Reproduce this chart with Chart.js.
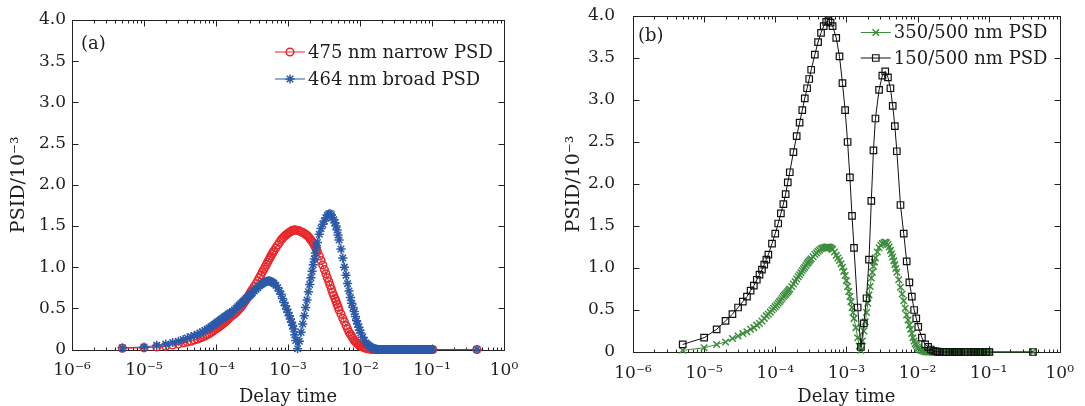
<!DOCTYPE html>
<html><head><meta charset="utf-8">
<script src="https://cdn.jsdelivr.net/npm/chart.js@4.4.1/dist/chart.umd.min.js"></script>
<style>
html,body{margin:0;padding:0;background:#fff;}
#wrap{position:relative;width:1085px;height:406px;overflow:hidden;background:#fff;}
.panel{position:absolute;top:0;height:406px;}
#pa{left:0;width:540px;}
#pb{left:540px;width:545px;}
</style></head><body>
<div id="wrap">
<div class="panel" id="pa"><canvas id="ca" width="540" height="406"></canvas></div>
<div class="panel" id="pb"><canvas id="cb" width="545" height="406"></canvas></div>
</div>
<script>
// ---- data ----
// fine lag grid (red, blue, green series)
const delayTimesFine = [
  5e-6, 1e-5, 1.5e-5, 2e-5, 2.5e-5, 3e-5, 3.5e-5, 4e-5, 4.5e-5, 5e-5, 5.5e-5, 6e-5, 6.5e-5, 7e-5, 7.5e-5, 8e-5,
  8.5e-5, 9e-5, 9.5e-5, 1e-4, 1.05e-4, 1.1e-4, 1.15e-4, 1.2e-4, 1.25e-4, 1.3e-4, 1.35e-4, 1.4e-4, 1.45e-4, 1.5e-4, 1.55e-4, 1.6e-4,
  1.7e-4, 1.8e-4, 1.9e-4, 2e-4, 2.1e-4, 2.2e-4, 2.3e-4, 2.4e-4, 2.5e-4, 2.6e-4, 2.7e-4, 2.8e-4, 2.9e-4, 3e-4, 3.1e-4, 3.2e-4,
  3.4e-4, 3.6e-4, 3.8e-4, 4e-4, 4.2e-4, 4.4e-4, 4.6e-4, 4.8e-4, 5e-4, 5.2e-4, 5.4e-4, 5.6e-4, 5.8e-4, 6e-4, 6.2e-4, 6.4e-4,
  6.8e-4, 7.2e-4, 7.6e-4, 8e-4, 8.4e-4, 8.8e-4, 9.2e-4, 9.6e-4, 1e-3, 1.04e-3, 1.08e-3, 1.12e-3, 1.16e-3, 1.2e-3, 1.24e-3, 1.28e-3,
  1.36e-3, 1.44e-3, 1.52e-3, 1.6e-3, 1.68e-3, 1.76e-3, 1.84e-3, 1.92e-3, 2e-3, 2.08e-3, 2.16e-3, 2.24e-3, 2.32e-3, 2.4e-3, 2.48e-3, 2.56e-3,
  2.72e-3, 2.88e-3, 3.04e-3, 3.2e-3, 3.36e-3, 3.52e-3, 3.68e-3, 3.84e-3, 4e-3, 4.16e-3, 4.32e-3, 4.48e-3, 4.64e-3, 4.8e-3, 4.96e-3, 5.12e-3,
  5.44e-3, 5.76e-3, 6.08e-3, 6.4e-3, 6.72e-3, 7.04e-3, 7.36e-3, 7.68e-3, 8e-3, 8.32e-3, 8.64e-3, 8.96e-3, 9.28e-3, 9.6e-3, 9.92e-3, 1.024e-2,
  1.088e-2, 1.152e-2, 1.216e-2, 1.28e-2, 1.344e-2, 1.408e-2, 1.472e-2, 1.536e-2, 1.6e-2, 1.664e-2, 1.728e-2, 1.792e-2, 1.856e-2, 1.92e-2, 1.984e-2, 2.048e-2,
  2.176e-2, 2.304e-2, 2.432e-2, 2.56e-2, 2.688e-2, 2.816e-2, 2.944e-2, 3.072e-2, 3.2e-2, 3.328e-2, 3.456e-2, 3.584e-2, 3.712e-2, 3.84e-2, 3.968e-2, 4.096e-2,
  4.352e-2, 4.608e-2, 4.864e-2, 5.12e-2, 5.376e-2, 5.632e-2, 5.888e-2, 6.144e-2, 6.4e-2, 6.656e-2, 6.912e-2, 7.168e-2, 7.424e-2, 7.68e-2, 7.936e-2, 8.192e-2,
  8.704e-2, 9.216e-2, 9.728e-2, 0.1024,
  0.42
];
// coarse lag grid (black series)
const delayTimesCoarse = [
  5e-6, 1e-5, 1.5e-5, 2e-5, 2.5e-5, 3e-5, 3.5e-5, 4e-5, 4.5e-5, 5e-5, 5.5e-5, 6e-5, 6.5e-5, 7e-5, 7.5e-5, 8e-5,
  9e-5, 1e-4, 1.1e-4, 1.2e-4, 1.3e-4, 1.4e-4, 1.5e-4, 1.6e-4,
  1.8e-4, 2e-4, 2.2e-4, 2.4e-4, 2.6e-4, 2.8e-4, 3e-4, 3.2e-4,
  3.6e-4, 4e-4, 4.4e-4, 4.8e-4, 5.2e-4, 5.6e-4, 6e-4, 6.4e-4,
  7.2e-4, 8e-4, 8.8e-4, 9.6e-4, 1.04e-3, 1.12e-3, 1.2e-3, 1.28e-3,
  1.44e-3, 1.6e-3, 1.76e-3, 1.92e-3, 2.08e-3, 2.24e-3, 2.4e-3, 2.56e-3,
  2.88e-3, 3.2e-3, 3.52e-3, 3.84e-3, 4.16e-3, 4.48e-3, 4.8e-3, 5.12e-3,
  5.76e-3, 6.4e-3, 7.04e-3, 7.68e-3, 8.32e-3, 8.96e-3, 9.6e-3, 1.024e-2,
  1.152e-2, 1.28e-2, 1.408e-2, 1.536e-2, 1.664e-2, 1.792e-2, 1.92e-2, 2.048e-2,
  2.304e-2, 2.56e-2, 2.816e-2, 3.072e-2, 3.328e-2, 3.584e-2, 3.84e-2, 4.096e-2,
  4.608e-2, 5.12e-2, 5.632e-2, 6.144e-2, 6.656e-2, 7.168e-2, 7.68e-2, 8.192e-2,
  9.216e-2, 0.1024, 0.42
];
// panel (a), on delayTimesFine
const narrow475 = [
  0.015, 0.02, 0.03, 0.04, 0.055, 0.065, 0.08, 0.09, 0.10, 0.115, 0.125, 0.14, 0.15, 0.165, 0.18, 0.19,
  0.205, 0.22, 0.235, 0.25, 0.262, 0.275, 0.288, 0.30, 0.312, 0.325, 0.337, 0.35, 0.362, 0.375, 0.388, 0.40,
  0.415, 0.43, 0.45, 0.47, 0.49, 0.51, 0.532, 0.555, 0.578, 0.60, 0.622, 0.645, 0.668, 0.69, 0.71, 0.73,
  0.765, 0.80, 0.835, 0.87, 0.905, 0.94, 0.97, 1.00, 1.03, 1.06, 1.085, 1.11, 1.135, 1.16, 1.18, 1.20,
  1.235, 1.27, 1.30, 1.33, 1.35, 1.37, 1.385, 1.40, 1.41, 1.42, 1.43, 1.44, 1.445, 1.45, 1.45, 1.45,
  1.445, 1.44, 1.43, 1.42, 1.41, 1.40, 1.385, 1.37, 1.35, 1.33, 1.31, 1.29, 1.265, 1.24, 1.215, 1.19,
  1.135, 1.08, 1.025, 0.97, 0.92, 0.87, 0.825, 0.78, 0.735, 0.69, 0.655, 0.62, 0.585, 0.55, 0.515, 0.48,
  0.43, 0.38, 0.335, 0.29, 0.25, 0.21, 0.185, 0.16, 0.135, 0.11, 0.095, 0.08, 0.068, 0.055, 0.047, 0.04,
  0.03, 0.02, 0.015, 0.01, 0.007, 0.005, 0.003, 0, 0, 0, 0, 0, 0, 0, 0, 0,
  0, 0, 0, 0, 0, 0, 0, 0, 0, 0, 0, 0, 0, 0, 0, 0,
  0, 0, 0, 0, 0, 0, 0, 0, 0, 0, 0, 0, 0, 0, 0, 0,
  0, 0, 0, 0,
  0
];
const broad464 = [
  0.02, 0.03, 0.05, 0.065, 0.085, 0.10, 0.12, 0.14, 0.155, 0.17, 0.185, 0.20, 0.215, 0.23, 0.245, 0.26,
  0.275, 0.29, 0.305, 0.32, 0.333, 0.345, 0.358, 0.37, 0.38, 0.39, 0.40, 0.41, 0.42, 0.43, 0.438, 0.445,
  0.462, 0.48, 0.50, 0.52, 0.538, 0.555, 0.57, 0.585, 0.60, 0.615, 0.628, 0.64, 0.652, 0.665, 0.678, 0.69,
  0.71, 0.73, 0.75, 0.77, 0.786, 0.80, 0.81, 0.82, 0.826, 0.83, 0.832, 0.83, 0.826, 0.82, 0.81, 0.80,
  0.78, 0.75, 0.71, 0.67, 0.62, 0.57, 0.53, 0.49, 0.45, 0.41, 0.37, 0.33, 0.29, 0.25, 0.18, 0.11,
  0.01, 0.10, 0.21, 0.31, 0.41, 0.51, 0.60, 0.70, 0.79, 0.87, 0.95, 1.03, 1.10, 1.17, 1.24, 1.30,
  1.40, 1.47, 1.52, 1.56, 1.60, 1.63, 1.645, 1.65, 1.635, 1.60, 1.575, 1.54, 1.50, 1.45, 1.39, 1.33,
  1.22, 1.11, 1.00, 0.90, 0.80, 0.71, 0.63, 0.56, 0.51, 0.46, 0.40, 0.35, 0.31, 0.27, 0.235, 0.20,
  0.15, 0.11, 0.08, 0.06, 0.045, 0.03, 0.02, 0.015, 0.01, 0.006, 0.003, 0, 0, 0, 0, 0,
  0, 0, 0, 0, 0, 0, 0, 0, 0, 0, 0, 0, 0, 0, 0, 0,
  0, 0, 0, 0, 0, 0, 0, 0, 0, 0, 0, 0, 0, 0, 0, 0,
  0, 0, 0, 0,
  0
];
// panel (b)
const psd350_500 = [   // on delayTimesFine
  0.02, 0.05, 0.09, 0.12, 0.16, 0.19, 0.22, 0.24, 0.27, 0.29, 0.32, 0.34, 0.37, 0.40, 0.43, 0.45,
  0.475, 0.50, 0.52, 0.54, 0.56, 0.58, 0.60, 0.62, 0.64, 0.66, 0.675, 0.69, 0.705, 0.72, 0.735, 0.75,
  0.78, 0.81, 0.84, 0.87, 0.895, 0.92, 0.945, 0.97, 0.99, 1.01, 1.03, 1.05, 1.065, 1.08, 1.095, 1.11,
  1.135, 1.16, 1.18, 1.20, 1.215, 1.23, 1.235, 1.24, 1.245, 1.25, 1.25, 1.25, 1.245, 1.24, 1.23, 1.22,
  1.19, 1.15, 1.12, 1.09, 1.05, 1.01, 0.96, 0.91, 0.85, 0.78, 0.72, 0.66, 0.60, 0.53, 0.47, 0.40,
  0.29, 0.17, 0.07, 0.02, 0.13, 0.25, 0.36, 0.47, 0.58, 0.68, 0.78, 0.88, 0.95, 1.02, 1.07, 1.12,
  1.19, 1.24, 1.27, 1.29, 1.30, 1.31, 1.30, 1.28, 1.25, 1.21, 1.17, 1.13, 1.085, 1.04, 0.995, 0.95,
  0.86, 0.77, 0.69, 0.61, 0.52, 0.44, 0.38, 0.32, 0.27, 0.22, 0.17, 0.13, 0.10, 0.08, 0.06, 0.04,
  0.025, 0.015, 0.008, 0.004, 0, 0, 0, 0, 0, 0, 0, 0, 0, 0, 0, 0,
  0, 0, 0, 0, 0, 0, 0, 0, 0, 0, 0, 0, 0, 0, 0, 0,
  0, 0, 0, 0, 0, 0, 0, 0, 0, 0, 0, 0, 0, 0, 0, 0,
  0, 0, 0, 0,
  0
];
const psd150_500 = [   // on delayTimesCoarse
  0.09, 0.17, 0.27, 0.37, 0.45, 0.53, 0.60, 0.66, 0.73, 0.79, 0.86, 0.92, 0.98, 1.04, 1.10, 1.16,
  1.29, 1.41, 1.53, 1.65, 1.76, 1.88, 2.02, 2.14,
  2.38, 2.57, 2.73, 2.88, 3.02, 3.14, 3.25, 3.36,
  3.54, 3.69, 3.80, 3.88, 3.93, 3.94, 3.92, 3.88,
  3.74, 3.52, 3.20, 2.88, 2.50, 2.08, 1.62, 1.24,
  0.53, 0.06, 0.34, 0.64, 1.10, 1.80, 2.40, 2.78,
  3.12, 3.29, 3.34, 3.27, 3.14, 2.93, 2.69, 2.39,
  1.75, 1.41, 1.08, 0.83, 0.66, 0.50, 0.40, 0.30,
  0.17, 0.09, 0.06, 0.03, 0.015, 0.008, 0.004, 0.002,
  0, 0, 0, 0, 0, 0, 0, 0,
  0, 0, 0, 0, 0, 0, 0, 0,
  0, 0, 0
];
const xTickValues = [1e-6, 1e-5, 1e-4, 1e-3, 1e-2, 1e-1, 1];
const xTickLabels = ['10\u207B\u2076', '10\u207B\u2075', '10\u207B\u2074', '10\u207B\u00B3', '10\u207B\u00B2', '10\u207B\u00B9', '10\u2070'];
const yTickValues = [0, 0.5, 1.0, 1.5, 2.0, 2.5, 3.0, 3.5, 4.0];
const yTickLabels = ['0', '0.5', '1.0', '1.5', '2.0', '2.5', '3.0', '3.5', '4.0'];
const seriesNamesA = ['475 nm narrow PSD', '464 nm broad PSD'];
const seriesNamesB = ['350/500 nm PSD', '150/500 nm PSD'];
const panelLabels = ['(a)', '(b)'];
const xTitle = 'Delay time';
const yTitle = 'PSID/10\u207B\u00B3';

// ---- drawing ----
const FONT = '"DejaVu Serif", "Liberation Serif", serif';
const TXT = '#1e1e1e';

const framePlugin = {
  id: 'frame',
  beforeDatasetsDraw(chart) {
    const {ctx, chartArea: a, scales: {x, y}} = chart;
    ctx.save();
    ctx.strokeStyle = '#222';
    ctx.lineWidth = 1;
    const L = Math.round(a.left) + 0.5, R = Math.round(a.right) + 0.5;
    const T = Math.round(a.top) + 0.5, B = Math.round(a.bottom) + 0.5;
    ctx.strokeRect(L, T, R - L, B - T);
    ctx.beginPath();
    x.ticks.forEach((t, i) => {
      const base = t.value;
      for (let k = 1; k <= 9; k++) {
        if (i === x.ticks.length - 1 && k > 1) break;
        const px = Math.round(x.getPixelForValue(base * k)) + 0.5;
        const len = k === 1 ? 6 : 3;
        ctx.moveTo(px, B); ctx.lineTo(px, B - len);
        ctx.moveTo(px, T); ctx.lineTo(px, T + len);
      }
    });
    y.ticks.forEach(t => {
      const py = Math.round(y.getPixelForValue(t.value)) + 0.5;
      ctx.moveTo(L, py); ctx.lineTo(L + 6, py);
      ctx.moveTo(R, py); ctx.lineTo(R - 6, py);
    });
    ctx.stroke();
    ctx.restore();
  }
};

const legendPlugin = {
  id: 'innerLegend',
  afterDraw(chart, args, opts) {
    const {ctx, chartArea: a} = chart;
    ctx.save();
    ctx.font = '18px ' + FONT;
    ctx.textBaseline = 'middle';
    ctx.textAlign = 'left';
    chart.data.datasets.forEach((ds, i) => {
      const yy = a.top + opts.rows[i];
      const tx = a.right - opts.textFromRight;
      ctx.strokeStyle = ds.borderColor;
      ctx.lineWidth = 1;
      ctx.beginPath();
      ctx.moveTo(tx - 33, yy); ctx.lineTo(tx - 3, yy);
      ctx.stroke();
      ctx.fillStyle = 'rgba(0,0,0,0)';
      ctx.lineWidth = ds.pointBorderWidth;
      Chart.helpers.drawPoint(ctx, {pointStyle: ds.pointStyle, radius: ds.pointRadius, borderWidth: ds.pointBorderWidth, rotation: 0}, tx - 18, yy);
      ctx.fillStyle = TXT;
      ctx.fillText(ds.label, tx, yy + 1);
    });
    ctx.fillStyle = TXT;
    ctx.fillText(opts.panel, a.left + opts.panelDx, a.top + opts.panelDy);
    ctx.restore();
  }
};

function pts(times, ys) { return times.map((t, i) => ({x: t, y: ys[i]})); }

function makeChart(id, datasets, cfg) {
  return new Chart(document.getElementById(id), {
    type: 'line',
    data: {datasets},
    options: {
      responsive: false,
      animation: false,
      devicePixelRatio: 1,
      events: [],
      layout: {padding: {left: 0, right: cfg.padRight, top: cfg.padTop, bottom: 0}},
      plugins: {
        legend: {display: false},
        tooltip: {enabled: false},
        innerLegend: cfg.legend
      },
      scales: {
        x: {
          type: 'logarithmic', min: 1e-6, max: 1,
          afterBuildTicks: s => { s.ticks = xTickValues.map(v => ({value: v, major: true})); },
          afterFit: s => { s.height = cfg.xHeight; },
          grid: {display: false, drawTicks: false},
          border: {display: false},
          ticks: {
            autoSkip: false, maxRotation: 0, padding: 11, color: TXT,
            font: {family: FONT, size: 17},
            callback: (v, i) => xTickLabels[i]
          },
          title: {display: true, text: xTitle, color: TXT, font: {family: FONT, size: 18, lineHeight: 1.0}, padding: {top: 0, bottom: 0}}
        },
        y: {
          type: 'linear', min: 0, max: 4,
          afterBuildTicks: s => { s.ticks = yTickValues.map(v => ({value: v})); },
          afterFit: s => { s.width = cfg.yWidth; s.paddingTop = 8; s.paddingBottom = 8; },
          grid: {display: false, drawTicks: false},
          border: {display: false},
          ticks: {
            padding: cfg.yTickPad, color: TXT,
            font: {family: FONT, size: 17},
            callback: (v, i) => yTickLabels[i]
          },
          title: {display: true, text: yTitle, color: TXT, font: {family: FONT, size: 19}, padding: {top: cfg.yTitlePad, bottom: 0}}
        }
      }
    },
    plugins: [framePlugin, legendPlugin]
  });
}

const RED = '#e8282b', BLUE = '#2b5aa8', GREEN = '#3d8d3d', BLACK = '#111111';

makeChart('ca', [
  {label: seriesNamesA[0], data: pts(delayTimesFine, narrow475), borderColor: RED, backgroundColor: RED,
   pointStyle: 'circle', pointRadius: 3.8, pointBorderWidth: 1.5, pointBackgroundColor: 'rgba(0,0,0,0)',
   pointBorderColor: RED, borderWidth: 1, tension: 0, clip: false, order: 1},
  {label: seriesNamesA[1], data: pts(delayTimesFine, broad464), borderColor: BLUE, backgroundColor: BLUE,
   pointStyle: 'star', pointRadius: 4.6, pointBorderWidth: 1.5, pointBorderColor: BLUE,
   borderWidth: 1, tension: 0, clip: false, order: 0}
], {padRight: 36, padTop: 20, xHeight: 56.5, yWidth: 72, yTickPad: 6, yTitlePad: 8,
    legend: {rows: [32, 59], textFromRight: 196, panel: panelLabels[0], panelDx: 9, panelDy: 24}});

makeChart('cb', [
  {label: seriesNamesB[0], data: pts(delayTimesFine, psd350_500), borderColor: GREEN, backgroundColor: GREEN,
   pointStyle: 'crossRot', pointRadius: 4.6, pointBorderWidth: 1.5, pointBorderColor: GREEN,
   borderWidth: 1, tension: 0, clip: false, order: 1},
  {label: seriesNamesB[1], data: pts(delayTimesCoarse, psd150_500), borderColor: BLACK, backgroundColor: BLACK,
   pointStyle: 'rect', pointRadius: 4.6, pointBorderWidth: 1.2, pointBackgroundColor: 'rgba(0,0,0,0)',
   pointBorderColor: BLACK, borderWidth: 1, tension: 0, clip: false, order: 0}
], {padRight: 23, padTop: 16, xHeight: 54, yWidth: 93, yTickPad: 18, yTitlePad: 23,
    legend: {rows: [16.5, 42], textFromRight: 166, panel: panelLabels[1], panelDx: 5, panelDy: 20}});
</script>
</body></html>
